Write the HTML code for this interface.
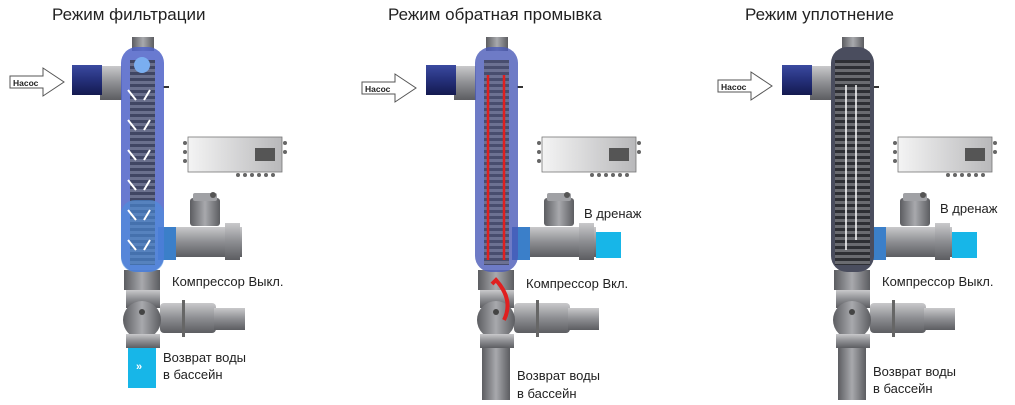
<!DOCTYPE html>
<html><head><meta charset="utf-8"><style>
body{margin:0;background:#fff;}
svg{display:block;font-family:"Liberation Sans",sans-serif;}
</style></head><body>
<svg width="1015" height="405" viewBox="0 0 1015 405" xmlns="http://www.w3.org/2000/svg">
<defs>
<linearGradient id="gp" x1="0" y1="0" x2="0" y2="1"><stop offset="0" stop-color="#c9c9cb"/><stop offset="0.5" stop-color="#8d8e92"/><stop offset="1" stop-color="#5c5d61"/></linearGradient>
<linearGradient id="gv" x1="0" y1="0" x2="1" y2="0"><stop offset="0" stop-color="#5c5d61"/><stop offset="0.5" stop-color="#a8a9ad"/><stop offset="1" stop-color="#5c5d61"/></linearGradient>
<linearGradient id="gbox" x1="0" y1="0" x2="1" y2="0"><stop offset="0" stop-color="#f4f4f4"/><stop offset="1" stop-color="#b8b8ba"/></linearGradient>
<linearGradient id="gin" x1="0" y1="0" x2="0" y2="1"><stop offset="0" stop-color="#3b4aa0"/><stop offset="0.5" stop-color="#25307a"/><stop offset="1" stop-color="#141a50"/></linearGradient>
<pattern id="rib" width="10" height="6" patternUnits="userSpaceOnUse"><rect width="10" height="6" fill="#6a6b70"/><rect width="10" height="3" fill="#2e2f34"/></pattern>
<g id="base">
  <rect x="188" y="137" width="94" height="35" fill="url(#gbox)" stroke="#777" stroke-width="0.8"/>
  <rect x="255" y="148" width="20" height="13" fill="#555"/>
  <circle cx="185" cy="143" r="2" fill="#666"/><circle cx="185" cy="152" r="2" fill="#666"/><circle cx="185" cy="161" r="2" fill="#666"/>
  <circle cx="285" cy="143" r="2" fill="#666"/><circle cx="285" cy="152" r="2" fill="#666"/>
  <circle cx="238" cy="175" r="2" fill="#666"/><circle cx="245" cy="175" r="2" fill="#666"/><circle cx="252" cy="175" r="2" fill="#666"/><circle cx="259" cy="175" r="2" fill="#666"/><circle cx="266" cy="175" r="2" fill="#666"/><circle cx="273" cy="175" r="2" fill="#666"/>
  <rect x="175" y="227" width="67" height="30" fill="url(#gp)"/>
  <rect x="190" y="198" width="30" height="28" rx="3" fill="url(#gv)"/>
  <rect x="193" y="193" width="24" height="8" rx="2" fill="#a0a1a5"/>
  <circle cx="213" cy="195" r="3" fill="#555"/>
  <rect x="225" y="223" width="15" height="37" fill="url(#gp)"/>
  <rect x="126" y="290" width="34" height="18" fill="url(#gp)"/>
  <rect x="160" y="303" width="56" height="30" rx="4" fill="url(#gp)"/>
  <rect x="214" y="308" width="31" height="22" fill="url(#gp)"/>
  <rect x="182" y="300" width="3" height="37" fill="#666"/>
  <circle cx="142" cy="320" r="19" fill="url(#gv)"/>
  <circle cx="142" cy="312" r="3" fill="#444"/>
  <rect x="126" y="334" width="34" height="14" fill="url(#gp)"/>
</g>
<g id="col">
  <rect x="132" y="37" width="22" height="14" fill="url(#gv)"/>
  <rect x="100" y="66" width="22" height="34" fill="url(#gp)"/>
  <rect x="124" y="270" width="36" height="20" fill="url(#gv)"/>
  <rect x="158" y="227" width="18" height="33" fill="#3b7fc9"/>
  <rect x="72" y="65" width="30" height="30" fill="url(#gin)"/>
  <rect x="163" y="86" width="6" height="2" fill="#333"/>
</g>
<g id="nasos">
  <polygon points="0,8 33,8 33,0 54,14 33,28 33,20 0,20" fill="#fff" stroke="#555" stroke-width="1"/>
  <text x="3" y="18" font-size="8.5" font-weight="bold" fill="#222">Насос</text>
</g>
</defs>

<text x="52" y="20" font-size="17" fill="#222">Режим фильтрации</text>
<text x="388" y="20" font-size="17" fill="#222">Режим обратная промывка</text>
<text x="745" y="20" font-size="17" fill="#222">Режим уплотнение</text>

<use href="#base"/>
<use href="#col"/>
<rect x="121" y="47" width="43" height="225" rx="16" fill="#4f63c8" opacity="0.85"/>
<rect x="130" y="60" width="25" height="205" fill="url(#rib)" opacity="0.7"/>
<rect x="121" y="200" width="43" height="72" rx="14" fill="#4a8ee0" opacity="0.6"/>
<circle cx="142" cy="65" r="8" fill="#7aaef0"/>
<rect x="128" y="348" width="28" height="40" fill="#17b6e8"/>
<text x="136" y="370" font-size="11" fill="#fff" font-weight="bold">»</text>
<use href="#nasos" x="10" y="68"/>
<g stroke="#fff" stroke-width="2" fill="none">
<path d="M128 90 l8 10 M150 90 l-6 10 M128 120 l8 10 M150 120 l-6 10 M128 150 l8 10 M150 150 l-6 10 M128 180 l8 10 M150 180 l-6 10 M128 210 l8 10 M150 210 l-6 10 M128 240 l8 10 M150 240 l-6 10"/>
</g>
<text x="172" y="286" font-size="13" fill="#222">Компрессор Выкл.</text>
<text x="163" y="362" font-size="13" fill="#222">Возврат воды</text>
<text x="163" y="379" font-size="13" fill="#222">в бассейн</text>

<g transform="translate(354,0)">
<use href="#base"/>
<use href="#col"/>
<rect x="121" y="47" width="43" height="225" rx="16" fill="#4a5ab8" opacity="0.8"/>
<rect x="130" y="60" width="25" height="205" fill="url(#rib)" opacity="0.6"/>
<rect x="128" y="348" width="28" height="52" fill="url(#gv)"/>
<rect x="242" y="232" width="25" height="26" fill="#17b6e8"/>
<g stroke="#e02020" stroke-width="2.5" fill="none">
<path d="M134 260 V75 M150 260 V75"/>
</g>
<path d="M150 320 q10 -20 -8 -40 l-4 4" stroke="#e02020" stroke-width="4" fill="none"/>
<text x="230" y="218" font-size="13" fill="#222">В дренаж</text>
<text x="172" y="288" font-size="13" fill="#222">Компрессор Вкл.</text>
<text x="163" y="380" font-size="13" fill="#222">Возврат воды</text>
<text x="163" y="398" font-size="13" fill="#222">в бассейн</text>
</g>
<use href="#nasos" x="362" y="74"/>

<g transform="translate(710,0)">
<use href="#base"/>
<use href="#col"/>
<rect x="121" y="47" width="43" height="225" rx="16" fill="#4a4d5e"/>
<rect x="125" y="60" width="35" height="205" fill="url(#rib)"/>
<rect x="128" y="348" width="28" height="52" fill="url(#gv)"/>
<rect x="242" y="232" width="25" height="26" fill="#17b6e8"/>
<path d="M136 85 V250 M146 85 V240" stroke="#fff" stroke-width="1.5"/>
<text x="230" y="213" font-size="13" fill="#222">В дренаж</text>
<text x="172" y="286" font-size="13" fill="#222">Компрессор Выкл.</text>
<text x="163" y="376" font-size="13" fill="#222">Возврат воды</text>
<text x="163" y="393" font-size="13" fill="#222">в бассейн</text>
</g>
<use href="#nasos" x="718" y="72"/>
</svg>
</body></html>
